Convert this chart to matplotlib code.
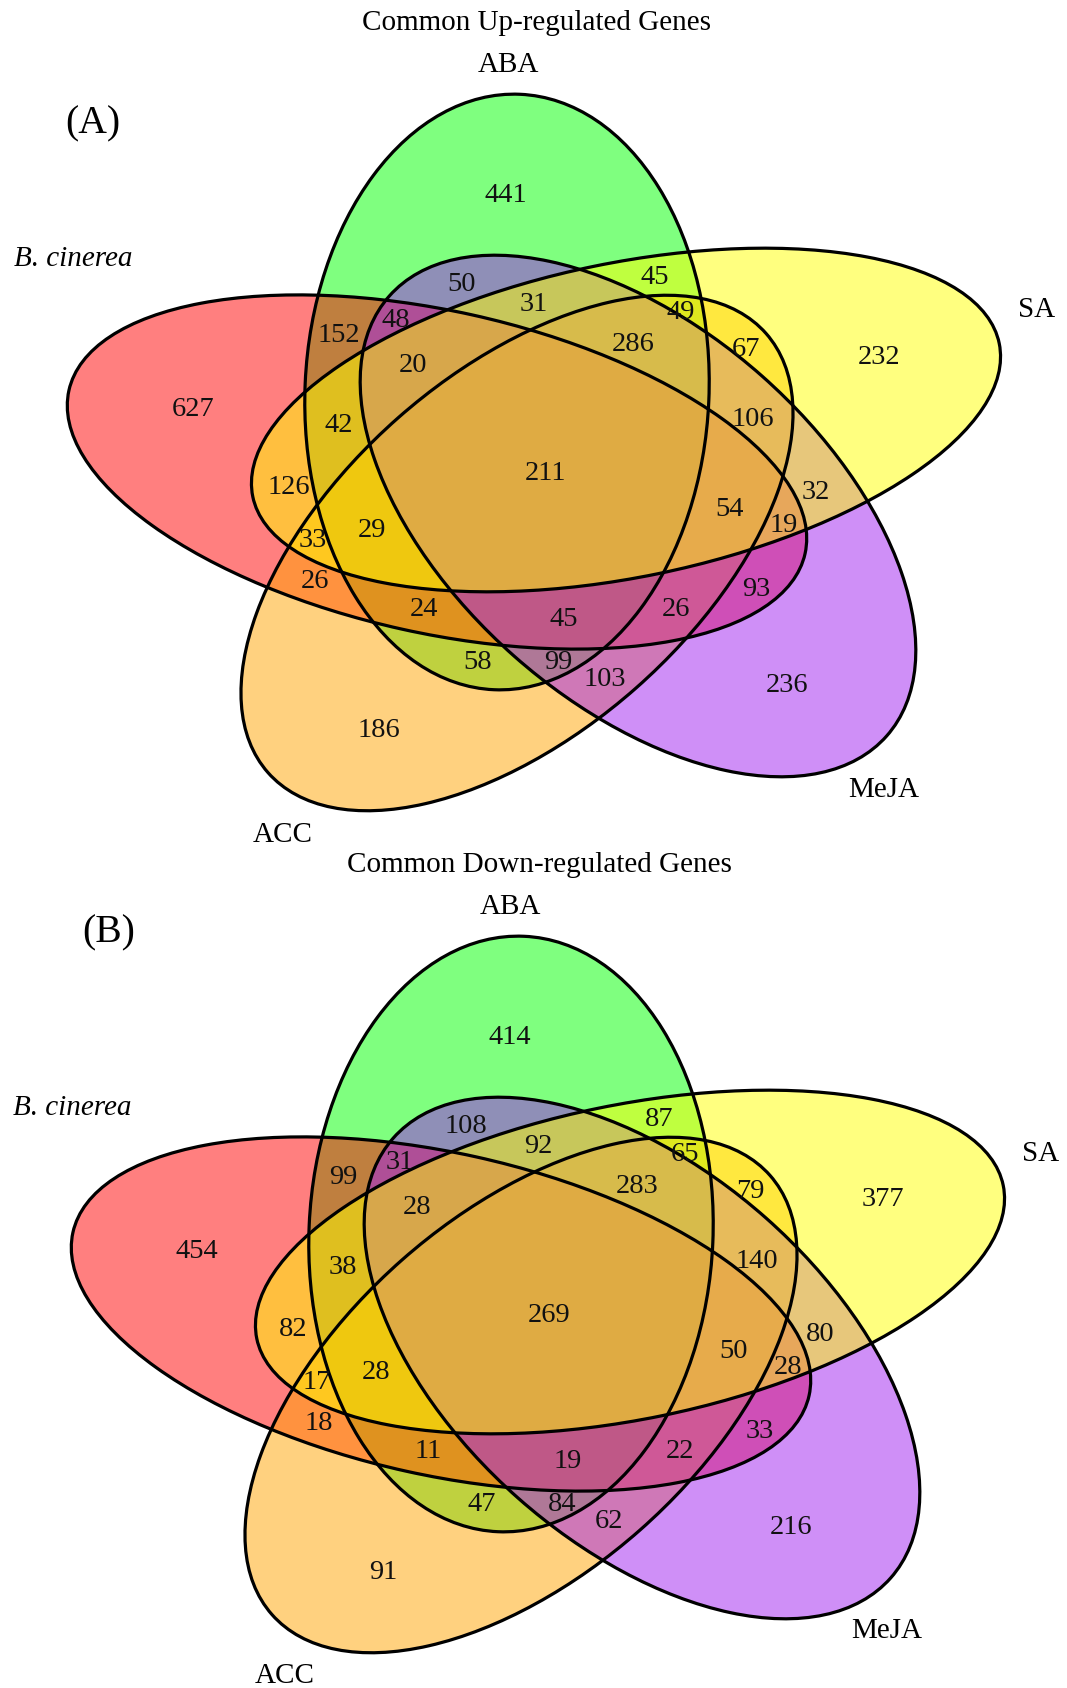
import matplotlib
matplotlib.use("Agg")
import matplotlib.pyplot as plt
from matplotlib.patches import Ellipse
from matplotlib.colors import to_rgba

# set names and fill colours, in drawing order
sets = ['ABA', 'B. cinerea', 'ACC', 'MeJA', 'SA']
set_colors = ['#00FF00', '#FF0000', '#FFA500', '#A020F0', '#FFFF00']

# region counts (same region order for both panels)
up_counts = [441, 50, 45, 31, 49, 152, 48, 20, 286, 67, 232, 627, 42, 106, 211,
             126, 32, 54, 19, 33, 29, 26, 24, 45, 26, 93, 58, 99, 103, 236, 186]
down_counts = [414, 108, 87, 92, 65, 99, 31, 28, 283, 79, 377, 454, 38, 140, 269,
               82, 80, 50, 28, 17, 28, 18, 11, 19, 22, 33, 47, 84, 62, 216, 91]

titles = ['Common Up-regulated Genes', 'Common Down-regulated Genes']
panel_tags = ['(A)', '(B)']

# ---- layout (pixel coordinates, y downwards) ----
# ellipse centre, semi-major, semi-minor, angle (deg, clockwise on screen)
ellipse_geom = [
    ((507, 392), 298, 202, -87.5),   # ABA
    ((437, 472), 377, 161, 12.5),    # B. cinerea
    ((517, 553), 332, 180, -41.4),   # ACC
    ((638, 516), 332, 187, 41.5),    # MeJA
    ((626, 420), 381, 157, -11.6),   # SA
]
region_xy = [(506, 193), (462, 282), (655, 275), (534, 302), (681, 310),
             (339, 333), (396, 318), (413, 363), (633, 342), (746, 347),
             (879, 355), (193, 407), (339, 423), (753, 417), (545, 471),
             (289, 485), (816, 490), (730, 507), (784, 523), (313, 538),
             (372, 528), (315, 579), (424, 607), (564, 617), (676, 607),
             (756, 587), (478, 660), (558, 660), (605, 677), (787, 683),
             (379, 728)]
panel_offset = [(0, 0), (4, 842)]
title_pos = [(536, 30), (539, 872)]
tag_pos = [(93, 133), (109, 942)]
# set label anchors for each panel: ABA, B. cinerea, ACC, MeJA, SA
label_pos = [
    [(508, 72), (14, 266), (283, 842), (884, 797), (1037, 317)],
    [(510, 914), (13, 1115), (285, 1683), (887, 1638), (1041, 1161)],
]

serif = 'Liberation Serif'

fig = plt.figure(figsize=(10.67, 16.88), dpi=100)
ax = fig.add_axes([0, 0, 1, 1])
ax.set_xlim(0, 1067)
ax.set_ylim(1688, 0)
ax.axis('off')

for p, counts in enumerate([up_counts, down_counts]):
    dx, dy = panel_offset[p]
    # filled sets first, then the outlines on top
    for (c, a, b, ang), col in zip(ellipse_geom, set_colors):
        ax.add_patch(Ellipse((c[0] + dx, c[1] + dy), 2 * a, 2 * b, angle=ang,
                             facecolor=to_rgba(col, 0.5), edgecolor='none'))
    for (c, a, b, ang) in ellipse_geom:
        ax.add_patch(Ellipse((c[0] + dx, c[1] + dy), 2 * a, 2 * b, angle=ang,
                             facecolor='none', edgecolor='black', lw=2.3))

    for n, (x, y) in zip(counts, region_xy):
        ax.text(x + dx, y + dy + 9, str(n), ha='center', va='baseline',
                fontsize=20.5, family=serif, color='#111111')

    ax.text(*title_pos[p], titles[p], ha='center', va='baseline',
            fontsize=21, family=serif)
    ax.text(*tag_pos[p], panel_tags[p], ha='center', va='baseline',
            fontsize=28.5, family=serif)

    lp = label_pos[p]
    ax.text(*lp[0], 'ABA', ha='center', va='baseline', fontsize=21, family=serif)
    ax.text(*lp[1], 'B. cinerea', ha='left', va='baseline', fontsize=21,
            family=serif, style='italic')
    ax.text(*lp[2], 'ACC', ha='center', va='baseline', fontsize=21, family=serif)
    ax.text(*lp[3], 'MeJA', ha='center', va='baseline', fontsize=21, family=serif)
    ax.text(*lp[4], 'SA', ha='center', va='baseline', fontsize=21, family=serif)

fig.savefig('out.png', dpi=100, facecolor='white')
